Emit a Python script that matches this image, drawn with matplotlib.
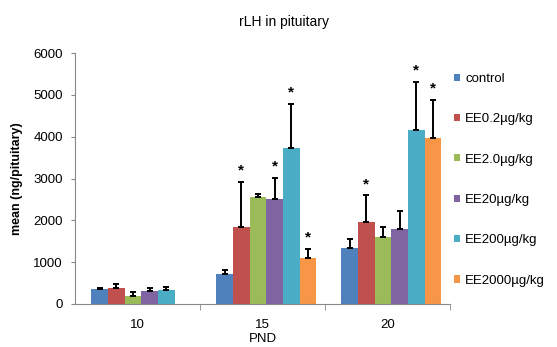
import matplotlib
matplotlib.use("Agg")
import matplotlib.pyplot as plt
import numpy as np

plt.rcParams['font.family'] = ['Liberation Sans', 'DejaVu Sans']

# PND groups and dose series
pnd = ["10", "15", "20"]
series = ["control", "EE0.2µg/kg", "EE2.0µg/kg", "EE20µg/kg", "EE200µg/kg", "EE2000µg/kg"]
colors = ["#4F81BD", "#C0504D", "#9BBB59", "#8064A2", "#4BACC6", "#F79646"]

# mean values per series, one value per PND (nan = no data)
control = [350, 720, 1330]
ee02 = [390, 1850, 1950]
ee20_ = [190, 2550, 1610]
ee20 = [300, 2510, 1800]
ee200 = [340, 3720, 4160]
ee2000 = [np.nan, 1100, 3960]

# upper error bars (SD)
err_control = [25, 95, 230]
err_ee02 = [80, 1070, 650]
err_ee20_ = [90, 80, 240]
err_ee20 = [80, 500, 415]
err_ee200 = [75, 1060, 1160]
err_ee2000 = [np.nan, 220, 930]

# significance marks (True = *)
sig_control = [False, False, False]
sig_ee02 = [False, True, True]
sig_ee20_ = [False, False, False]
sig_ee20 = [False, True, False]
sig_ee200 = [False, True, True]
sig_ee2000 = [False, True, True]

values = [control, ee02, ee20_, ee20, ee200, ee2000]
errors = [err_control, err_ee02, err_ee20_, err_ee20, err_ee200, err_ee2000]
sigs = [sig_control, sig_ee02, sig_ee20_, sig_ee20, sig_ee200, sig_ee2000]

fig = plt.figure(figsize=(5.57, 3.47), dpi=100)
ax = fig.add_axes([0.135, 0.124, 0.673, 0.723])

x = np.arange(len(pnd))
n = len(series)
width = 0.8 / n

for i in range(n):
    pos = x - 0.37 + width * (i + 0.5)
    v = np.array(values[i], dtype=float)
    e = np.array(errors[i], dtype=float)
    ax.bar(pos, v, width, color=colors[i], label=series[i], zorder=2)
    ax.errorbar(pos, v, yerr=[np.zeros_like(e), e], fmt='none', ecolor='black',
                elinewidth=1.4, capsize=2.5, capthick=1.4, zorder=3)
    for j in range(len(pnd)):
        if sigs[i][j]:
            ax.annotate("*", (pos[j], v[j] + e[j]), xytext=(0, 3),
                        textcoords='offset points', ha='center', va='bottom',
                        fontsize=11, fontweight='bold')

ax.set_xlim(-0.5, 2.5)
ax.set_ylim(0, 6000)
ax.set_yticks(np.arange(0, 6001, 1000))
ax.set_xticks(x)
ax.set_xticklabels(pnd, fontsize=9.5)
ax.set_xticks([0.5, 1.5, 2.5], minor=True)
ax.tick_params(axis='x', which='major', length=0, pad=11)
ax.tick_params(axis='x', which='minor', length=4, color='#888888', direction='out')
ax.tick_params(axis='y', length=3, color='#888888', labelsize=9.5, direction='out', pad=6)

for s in ['top', 'right']:
    ax.spines[s].set_visible(False)
for s in ['left', 'bottom']:
    ax.spines[s].set_color('#888888')
    ax.spines[s].set_linewidth(0.8)

ax.set_xlabel("PND", fontsize=9.5, labelpad=1)
ax.set_ylabel("mean (ng/pituitary)", fontsize=9, fontweight='bold', labelpad=7)
fig.text(0.51, 0.937, "rLH in pituitary", ha='center', va='center', fontsize=10)

ax.legend(loc='upper left', bbox_to_anchor=(0.815, 0.79), bbox_transform=fig.transFigure,
          frameon=False, fontsize=9.5, labelspacing=2.15, handlelength=0.45,
          handleheight=0.45, handletextpad=0.4, borderpad=0, borderaxespad=0)

fig.savefig("out.png", dpi=100)
